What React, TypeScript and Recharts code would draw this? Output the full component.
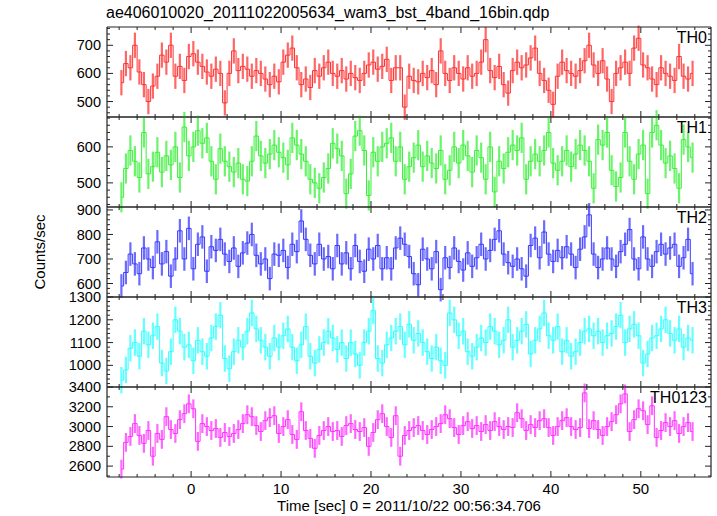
import { LineChart, Line, XAxis, YAxis, ErrorBar } from 'recharts';

// 0.5 s bins, first bin centre at -7.75 s
const T0 = -7.75;
const BIN = 0.5;

const TH0 = [
  567, 635, 620, 700, 605, 560, 500, 555, 590, 665, 640, 700, 590, 625, 575, 660,
  670, 640, 625, 605, 590, 615, 600, 495, 600, 680, 610, 625, 615, 590, 610, 600,
  580, 560, 590, 570, 640, 665, 690, 620, 560, 580, 550, 610, 590, 620, 640, 600,
  590, 610, 580, 600, 585, 575, 600, 630, 640, 615, 625, 650, 575, 620, 620, 480,
  590, 575, 570, 600, 585, 610, 560, 680, 600, 575, 620, 600, 580, 620, 590, 600,
  640, 720, 610, 585, 625, 560, 530, 610, 640, 620, 630, 655, 690, 600, 575, 540,
  490, 590, 640, 610, 600, 590, 610, 645, 700, 630, 600, 645, 580, 500, 600, 620,
  640, 600, 690, 725, 630, 620, 580, 560, 620, 600, 590, 575, 660, 590, 580, 600,
];

const TH1 = [
  460, 540, 590, 560, 515, 640, 525, 545, 585, 530, 575, 550, 600, 515, 655, 575,
  600, 645, 610, 625, 560, 510, 595, 560, 545, 530, 555, 510, 505, 560, 630, 575,
  555, 580, 605, 585, 570, 550, 625, 605, 580, 560, 510, 500, 485, 515, 540, 610,
  595, 575, 470, 525, 630, 645, 590, 465, 585, 560, 600, 610, 625, 560, 600, 510,
  545, 570, 605, 545, 575, 555, 540, 590, 510, 535, 600, 555, 605, 575, 530, 590,
  570, 510, 600, 475, 560, 540, 585, 605, 590, 625, 510, 560, 580, 560, 590, 640,
  555, 535, 560, 590, 545, 580, 605, 590, 560, 485, 620, 605, 640, 535, 490, 515,
  640, 560, 510, 580, 605, 470, 640, 660, 605, 555, 575, 540, 485, 620, 600, 570,
];

const TH2 = [
  590, 645, 720, 680, 640, 745, 700, 665, 770, 680, 730, 630, 700, 815, 700, 825,
  660, 760, 790, 650, 750, 735, 780, 720, 690, 745, 670, 725, 765, 800, 715, 680,
  700, 620, 720, 715, 735, 665, 760, 730, 855, 780, 715, 680, 760, 700, 710, 660,
  755, 680, 725, 660, 755, 690, 650, 740, 700, 755, 660, 705, 660, 745, 785, 760,
  710, 640, 595, 740, 700, 660, 730, 575, 705, 665, 745, 690, 655, 725, 670, 705,
  760, 700, 735, 780, 815, 720, 685, 670, 700, 660, 630, 755, 785, 705, 810, 720,
  690, 735, 705, 750, 720, 665, 740, 790, 880, 720, 665, 700, 745, 700, 670, 730,
  760, 820, 700, 660, 790, 700, 670, 730, 760, 720, 745, 760, 670, 705, 780, 640,
];

const TH3 = [
  935, 980, 1075, 1100, 1040, 1150, 1090, 1130, 1170, 1010, 975, 1060, 1200, 1150, 1080, 1090,
  1020, 1110, 1060, 1040, 1120, 1170, 1220, 1030, 985, 1060, 1110, 1080, 1150, 1230, 1160, 1110,
  1080, 1040, 1120, 1080, 1130, 1160, 1080, 1020, 1090, 1170, 1040, 1010, 1070, 1100, 1150, 1120,
  1070, 1100, 1030, 1100, 1050, 1000, 1100, 1150, 1240, 1030, 1010, 1090, 1120, 1150, 1170, 1090,
  1180, 1110, 1140, 1100, 1060, 1030, 1080, 1020, 1000, 1230, 1200, 1130, 1150, 1060, 1040, 1080,
  1120, 1100, 1170, 1150, 1090, 1110, 1200, 1080, 1110, 1150, 1180, 1050, 1110, 1160, 1230, 1130,
  1110, 1170, 1060, 1110, 1040, 1060, 1100, 1150, 1160, 1130, 1150, 1100, 1130, 1140, 1170, 1220,
  1100, 1160, 1180, 1130, 1010, 1050, 1120, 1130, 1160, 1200, 1140, 1110, 1160, 1080, 1120, 1110,
];

const TH0123 = [
  2570, 2840, 2900, 3030, 2910, 2830, 2960, 2700, 2930, 2870, 3100, 2970, 2930, 3070, 3130, 3230,
  3180, 2850, 3030, 3000, 2960, 2980, 2890, 2940, 2900, 2930, 2970, 3030, 3120, 3100, 3010, 2950,
  3060, 3090, 3110, 2930, 3000, 3070, 2920, 2870, 3150, 2960, 2880, 2780, 2910, 2960, 3000, 2950,
  2960, 2900, 3010, 3030, 2970, 2950, 2990, 2800, 2940, 3070, 3130, 3000, 2890, 3110, 2700, 2910,
  2960, 2990, 3010, 2960, 2920, 2970, 3000, 3030, 3120, 3080, 2990, 2920, 3010, 3050, 2980, 3010,
  2950, 3020, 2960, 3050, 3000, 2970, 3000, 2990, 3140, 3080, 2960, 3020, 2990, 3060, 3080, 2990,
  2910, 3000, 3060, 3090, 3000, 2970, 2990, 3340, 2980, 3060, 2970, 2910, 3000, 3050, 3120, 3230,
  3330, 2950, 3070, 3180, 3160, 3020, 3210, 2890, 2960, 3040, 3000, 3060, 2930, 3000, 3040, 2950,
];

// typical 1-sigma error per band (counts/sec)
const ERRORS = [45, 42, 48, 58, 95];

const X_LABELS = [0, 10, 20, 30, 40, 50];
const X_DOMAIN: [number, number] = [-9.35, 57.8];

const PANELS = [
  { name: 'TH0', values: TH0, color: '#ff3333', domain: [445, 765], majors: [500, 600, 700], minor: 20 },
  { name: 'TH1', values: TH1, color: '#3af03a', domain: [433, 683], majors: [500, 600], minor: 20 },
  { name: 'TH2', values: TH2, color: '#3a3aff', domain: [545, 912], majors: [600, 700, 800, 900], minor: 20 },
  { name: 'TH3', values: TH3, color: '#33ffff', domain: [905, 1300], majors: [1000, 1100, 1200, 1300], minor: 20 },
  { name: 'TH0123', values: TH0123, color: '#ff33ff', domain: [2490, 3400], majors: [2600, 2800, 3000, 3200, 3400], minor: 100 },
];

const FONT = '"Liberation Sans", Arial, Helvetica, sans-serif';
const PANEL_TOP = 27;
const PANEL_H = 90;
const LEFT = 107;
const RIGHT = 6;
const W = 717;

function rangeTicks(lo: number, hi: number, step: number) {
  const out: number[] = [];
  for (let v = Math.ceil(lo / step) * step; v <= hi + 1e-9; v += step) out.push(v);
  return out;
}

const xTicks = rangeTicks(X_DOMAIN[0], X_DOMAIN[1], 2);

function XTick(props: any) {
  const { x, y, payload, side, showLabel } = props;
  const v = payload.value;
  const major = Math.abs(v % 10) < 1e-6;
  const len = major ? 6 : 3;
  const y2 = side === 'bottom' ? y - len : y + len;
  return (
    <g>
      <line x1={x} y1={y} x2={x} y2={y2} stroke="#222" strokeWidth={1} />
      {showLabel && major && X_LABELS.includes(v) ? (
        <text x={x} y={y + 17} textAnchor="middle" fontFamily={FONT} fontSize={15} fill="#000">
          {v}
        </text>
      ) : null}
    </g>
  );
}

function YTick(props: any) {
  const { x, y, payload, side, majors } = props;
  const v = payload.value;
  const major = majors.includes(v);
  const len = major ? 6 : 3;
  const x2 = side === 'left' ? x + len : x - len;
  return (
    <g>
      <line x1={x} y1={y} x2={x2} y2={y} stroke="#222" strokeWidth={1} />
      {side === 'left' && major ? (
        <text x={x - 6} y={y} dy="0.35em" textAnchor="end" fontFamily={FONT} fontSize={14.5} fill="#000">
          {v}
        </text>
      ) : null}
    </g>
  );
}

function Panel({ idx }: { idx: number }) {
  const p = PANELS[idx];
  const last = idx === PANELS.length - 1;
  const data = p.values.map((v, i) => ({ t: T0 + BIN * i, v, e: ERRORS[idx] }));
  const yTicks = rangeTicks(p.domain[0], p.domain[1], p.minor);
  const topH = 12;
  const botH = last ? 30 : 12;
  const top = PANEL_TOP + idx * PANEL_H;
  return (
    <div style={{ position: 'absolute', left: 0, top: top - topH }}>
      <LineChart width={W} height={PANEL_H + topH + botH} data={data} margin={{ top: 0, right: 0, bottom: 0, left: 0 }}>
        <XAxis
          xAxisId="b"
          type="number"
          dataKey="t"
          domain={X_DOMAIN}
          allowDataOverflow
          ticks={xTicks}
          interval={0}
          height={botH}
          tickSize={0}
          tickMargin={0}
          tickLine={false}
          axisLine={{ stroke: '#222', strokeWidth: 1.2 }}
          tick={(tp: any) => <XTick {...tp} side="bottom" showLabel={last} />}
        />
        <XAxis
          xAxisId="t"
          orientation="top"
          type="number"
          dataKey="t"
          domain={X_DOMAIN}
          allowDataOverflow
          ticks={xTicks}
          interval={0}
          height={topH}
          tickSize={0}
          tickMargin={0}
          tickLine={false}
          axisLine={{ stroke: '#222', strokeWidth: 1.2 }}
          tick={(tp: any) => <XTick {...tp} side="top" showLabel={false} />}
        />
        <YAxis
          yAxisId="l"
          type="number"
          domain={p.domain}
          allowDataOverflow
          ticks={yTicks}
          interval={0}
          width={LEFT}
          tickSize={0}
          tickMargin={0}
          tickLine={false}
          axisLine={{ stroke: '#222', strokeWidth: 1.2 }}
          tick={(tp: any) => <YTick {...tp} side="left" majors={p.majors} />}
        />
        <YAxis
          yAxisId="r"
          orientation="right"
          type="number"
          domain={p.domain}
          allowDataOverflow
          ticks={yTicks}
          interval={0}
          width={RIGHT}
          tickSize={0}
          tickMargin={0}
          tickLine={false}
          axisLine={{ stroke: '#222', strokeWidth: 1.2 }}
          tick={(tp: any) => <YTick {...tp} side="right" majors={p.majors} />}
        />
        <Line
          xAxisId="t"
          yAxisId="r"
          dataKey="v"
          stroke="none"
          dot={false}
          activeDot={false}
          isAnimationActive={false}
        />
        <Line
          xAxisId="b"
          yAxisId="l"
          type="step"
          dataKey="v"
          stroke={p.color}
          strokeWidth={1}
          dot={false}
          activeDot={false}
          isAnimationActive={false}
        >
          <ErrorBar dataKey="e" direction="y" width={0} stroke={p.color} strokeWidth={2.2} strokeOpacity={0.75} isAnimationActive={false} />
        </Line>
      </LineChart>
      <div
        style={{
          position: 'absolute',
          right: RIGHT + 4,
          top: topH + 2,
          fontFamily: FONT,
          fontSize: 16,
          lineHeight: '18px',
          color: '#000',
        }}
      >
        {p.name}
      </div>
    </div>
  );
}

export default function App() {
  return (
    <div style={{ position: 'absolute', left: 0, top: 0, width: W, height: 516, background: '#fff', fontFamily: FONT }}>
      <div style={{ position: 'absolute', left: LEFT - 1, top: 3, fontSize: 16, lineHeight: '20px', color: '#000' }}>
        ae406010020_20111022005634_wam3_bst_4band_16bin.qdp
      </div>
      {PANELS.map((_, i) => (
        <Panel key={i} idx={i} />
      ))}
      <div
        style={{
          position: 'absolute',
          left: 40,
          top: 252,
          transform: 'translate(-50%, -50%) rotate(-90deg)',
          fontSize: 15,
          lineHeight: '18px',
          whiteSpace: 'nowrap',
          color: '#000',
        }}
      >
        Counts/sec
      </div>
      <div
        style={{
          position: 'absolute',
          left: LEFT,
          width: W - LEFT - RIGHT,
          top: 497,
          textAlign: 'center',
          fontSize: 15,
          lineHeight: '18px',
          color: '#000',
        }}
      >
        Time [sec] 0 = 2011/10/22 00:56:34.706
      </div>
    </div>
  );
}
